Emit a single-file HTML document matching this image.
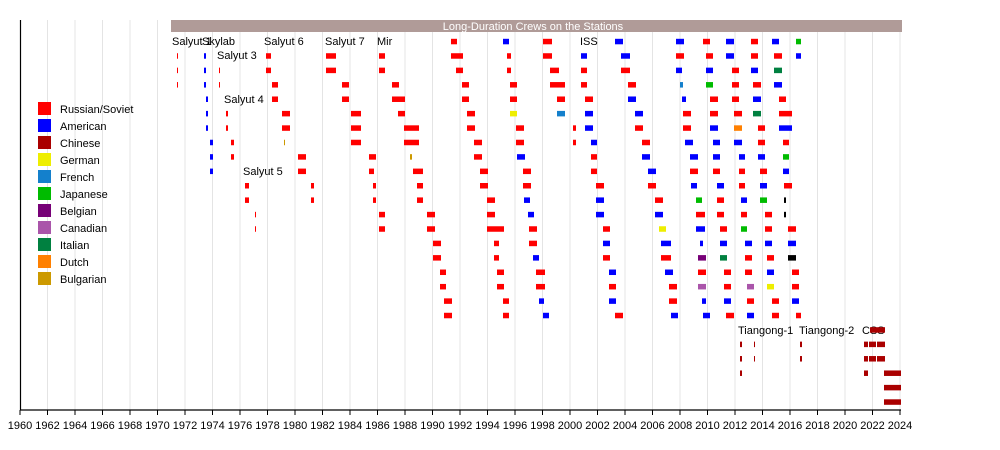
<!DOCTYPE html>
<html><head><meta charset="utf-8"><style>
html,body{margin:0;padding:0;background:#fff;}
svg{display:block;font-family:"Liberation Sans",sans-serif;}
</style></head><body>
<svg id="c" width="1000" height="450" xmlns="http://www.w3.org/2000/svg">
<rect x="0" y="0" width="1000" height="450" fill="#fff"/>
<g id="grid"></g>
<rect x="171" y="20" width="731" height="12" fill="#b09b98"/>
<text x="533" y="30" font-size="11" fill="#fff" text-anchor="middle">Long-Duration Crews on the Stations</text>
<g font-size="11" fill="#000">
<text x="172" y="45">Salyut 1</text>
<text x="202" y="45">Skylab</text>
<text x="217" y="59">Salyut 3</text>
<text x="224" y="103">Salyut 4</text>
<text x="243" y="175">Salyut 5</text>
<text x="264" y="45">Salyut 6</text>
<text x="325" y="45">Salyut 7</text>
<text x="377" y="45">Mir</text>
<text x="580" y="45">ISS</text>
<text x="738" y="334">Tiangong-1</text>
<text x="799" y="334">Tiangong-2</text>
<text x="862" y="334">CSS</text>
</g>
<g id="bars"></g>
<g id="legend" font-size="11"></g>
<line x1="20.5" y1="20" x2="20.5" y2="410" stroke="#000" stroke-width="1.2"/>
<line x1="20" y1="410" x2="901" y2="410" stroke="#000" stroke-width="1.2"/>
<g id="ticks" font-size="11" text-anchor="middle"></g>
</svg>
<script>
var NS="http://www.w3.org/2000/svg";
function el(t,a,p,txt){var e=document.createElementNS(NS,t);for(var k in a)e.setAttribute(k,a[k]);if(txt)e.textContent=txt;document.getElementById(p).appendChild(e);return e;}
for(var yr=1960;yr<=2024;yr+=2){var x=20+(yr-1960)*13.75;
 if(yr>1960)el("line",{x1:x,y1:20,x2:x,y2:410,stroke:"#e4e4e4","stroke-width":1},"grid");
 el("line",{x1:x,y1:410,x2:x,y2:415,stroke:"#000","stroke-width":1},"ticks");
 el("text",{x:x,y:429},"ticks",String(yr));}
var C={r:"#ff0000",b:"#0000ff",c:"#aa0000",g:"#eeee00",f:"#1480cc",j:"#00bb00",be:"#770077",ca:"#aa55aa",i:"#008040",d:"#ff8000",bu:"#cc9900",k:"#000000"};
var leg=[["r","Russian/Soviet"],["b","American"],["c","Chinese"],["g","German"],["f","French"],["j","Japanese"],["be","Belgian"],["ca","Canadian"],["i","Italian"],["d","Dutch"],["bu","Bulgarian"]];
leg.forEach(function(l,i){var y=102+i*17;el("rect",{x:38,y:y,width:13,height:13,fill:C[l[0]]},"legend");el("text",{x:60,y:y+11},"legend",l[1]);});
function ry(i){return 41.3+14.42*i;}
var D=[];
function B(x1,x2,rows,c){rows.forEach(function(r){D.push([x1,x2,r,c]);});}
// early
B(177,178,[1,2,3],"r");B(204,206,[1,2,3],"b");B(206,208,[4,5,6],"b");B(210,213,[7,8,9],"b");
B(219,220,[2,3],"r");B(226,228,[5,6],"r");B(231,234,[7,8],"r");
B(245,249,[10,11],"r");B(255,256,[12,13],"r");
B(266,271,[1,2],"r");B(272,278,[3,4],"r");B(282,290,[5,6],"r");B(284,285,[7],"bu");B(298,306,[8,9],"r");B(311,314,[10,11],"r");
B(326,336,[1,2],"r");B(342,349,[3,4],"r");B(351,361,[5,6,7],"r");B(369,376,[8],"r");B(369,374,[9],"r");B(373,376,[10,11],"r");B(379,385,[12,13],"r");
// Mir
B(379,385,[1,2],"r");B(392,399,[3],"r");B(392,405,[4],"r");B(398,405,[5],"r");B(404,419,[6,7],"r");B(410,412,[8],"bu");B(413,423,[9],"r");B(417,423,[10,11],"r");B(427,435,[12,13],"r");B(433,441,[14,15],"r");B(440,446,[16,17],"r");B(444,452,[18,19],"r");
B(451,457,[0],"r");B(451,463,[1],"r");B(456,463,[2],"r");B(462,469,[3,4],"r");B(467,475,[5,6],"r");B(474,482,[7,8],"r");B(480,488,[9,10],"r");B(487,495,[11,12],"r");B(487,504,[13],"r");B(494,499,[14,15],"r");B(497,504,[16,17],"r");B(503,509,[18,19],"r");
B(503,509,[0],"b");B(507,511,[1,2],"r");B(510,517,[3,4],"r");B(510,517,[5],"g");B(516,524,[6,7],"r");B(517,525,[8],"b");B(523,531,[9,10],"r");B(524,530,[11],"b");B(528,534,[12],"b");B(529,537,[13,14],"r");B(533,539,[15],"b");B(536,545,[16,17],"r");B(539,544,[18],"b");B(543,549,[19],"b");
B(543,552,[0,1],"r");B(550,559,[2],"r");B(550,565,[3],"r");B(557,565,[4],"r");B(557,565,[5],"f");
// ISS
B(573,576,[6,7],"r");
B(581,587,[1],"b");B(581,587,[2,3],"r");B(585,593,[4],"r");B(585,593,[5,6],"b");B(591,597,[7],"b");B(591,597,[8,9],"r");B(596,604,[10],"r");B(596,604,[11,12],"b");B(603,610,[13,15],"r");B(603,610,[14],"b");B(609,616,[16,18],"b");B(609,616,[17],"r");B(615,623,[19],"r");
B(615,623,[0],"b");B(621,630,[1],"b");B(621,630,[2],"r");B(628,636,[3],"r");B(628,636,[4],"b");B(635,643,[5],"b");B(635,643,[6],"r");B(642,650,[7],"r");B(642,650,[8],"b");B(648,656,[9],"b");B(648,656,[10],"r");B(655,663,[11],"r");B(655,663,[12],"b");B(659,666,[13],"g");B(661,671,[14],"b");B(661,671,[15],"r");B(665,673,[16],"b");B(669,677,[17,18],"r");B(671,678,[19],"b");
B(676,684,[0],"b");B(676,684,[1],"r");B(676,682,[2],"b");B(680,683,[3],"f");B(682,686,[4],"b");B(683,691,[5,6],"r");B(685,693,[7],"b");B(690,698,[8],"b");B(690,698,[9],"r");B(691,697,[10],"b");B(696,702,[11],"j");B(696,705,[12],"r");B(696,705,[13],"b");B(700,703,[14],"b");B(698,706,[15],"be");B(698,706,[16],"r");B(698,706,[17],"ca");B(702,706,[18],"b");B(703,710,[19],"b");
B(703,710,[0],"r");B(706,713,[1],"r");B(706,713,[2],"b");B(706,713,[3],"j");B(710,718,[4,5],"r");B(710,718,[6],"b");B(713,720,[7,8],"b");B(713,720,[9],"r");B(717,724,[10],"b");B(717,724,[11,12],"r");B(720,727,[13],"r");B(720,727,[14],"b");B(720,727,[15],"i");B(724,731,[16,17],"r");B(724,731,[18],"b");B(726,734,[19],"r");
B(726,734,[0,1],"b");B(732,739,[2,3,4],"r");B(734,742,[5],"r");B(734,742,[6],"d");B(734,742,[7],"b");B(739,745,[8],"b");B(739,745,[9,10],"r");B(741,747,[11],"b");B(741,747,[12],"r");B(741,747,[13],"j");B(745,752,[14],"b");B(745,752,[15,16],"r");B(747,754,[17],"ca");B(747,754,[18],"r");B(747,754,[19],"b");
B(751,758,[0,1],"r");B(751,758,[2],"b");B(753,761,[3],"r");B(753,761,[4],"b");B(753,761,[5],"i");B(758,765,[6,7],"r");B(758,765,[8],"b");B(760,767,[9],"r");B(760,767,[10],"b");B(760,767,[11],"j");B(765,772,[12,13],"r");B(765,772,[14],"b");B(767,774,[15],"r");B(767,774,[16],"b");B(767,774,[17],"g");B(772,779,[18,19],"r");
B(772,779,[0],"b");B(774,782,[1],"r");B(774,782,[2],"i");B(774,782,[3],"b");B(779,786,[4],"r");B(779,792,[5],"r");B(779,792,[6],"b");B(783,789,[7],"r");B(783,789,[8],"j");B(783,789,[9],"b");B(784,792,[10],"r");B(784,786,[11,12],"k");B(788,796,[13],"r");B(788,796,[14],"b");B(788,796,[15],"k");B(792,799,[16,17],"r");B(792,799,[18],"b");B(796,801,[19],"r");
B(796,801,[0],"j");B(796,801,[1],"b");
// Chinese
B(740,742,[21,22,23],"c");B(754,755,[21,22],"c");B(800,802,[21,22],"c");
B(870,885,[20],"c");B(864,868,[21,22,23],"c");B(869,876,[21,22],"c");B(877,885,[21,22],"c");B(884,901,[23,24,25],"c");
D.forEach(function(d){el("rect",{x:d[0],y:ry(d[2])-2.5,width:Math.max(1,d[1]-d[0]),height:5.5,fill:C[d[3]]},"bars");});
</script>
</body></html>
